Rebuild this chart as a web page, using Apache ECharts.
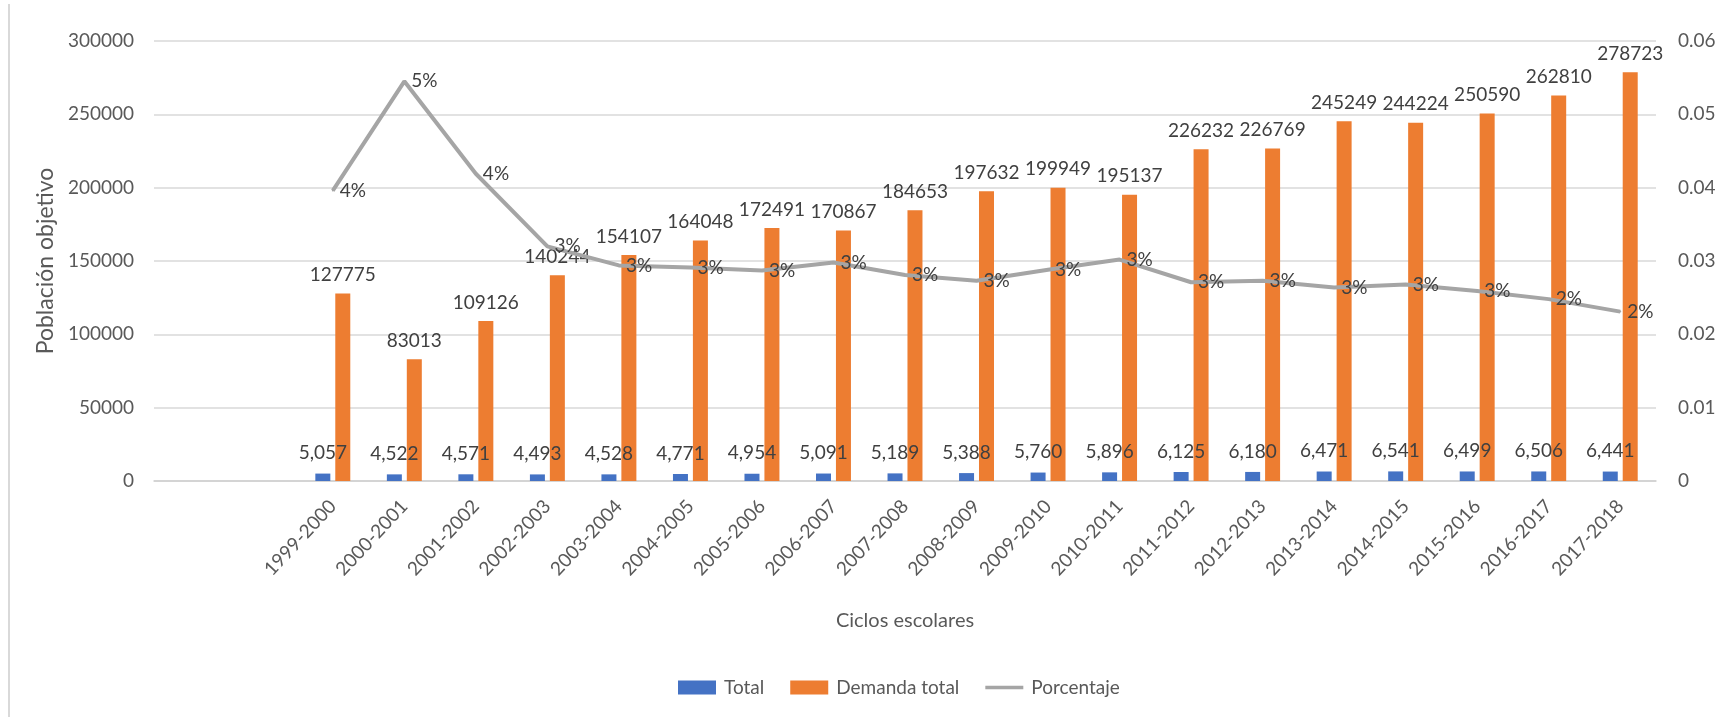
<!DOCTYPE html>
<html>
<head>
<meta charset="utf-8">
<script src="https://cdn.jsdelivr.net/npm/echarts@6/dist/echarts.min.js"></script>
<style>
html,body{margin:0;padding:0;background:#fff;}
#chart{width:1724px;height:717px;}
</style>
</head>
<body>
<div id="chart"></div>
<script>
// Two empty leading category slots exist on the reference axis
const leadingBlanks = ['', ''];
const categories = ['1999-2000','2000-2001','2001-2002','2002-2003','2003-2004','2004-2005','2005-2006','2006-2007','2007-2008','2008-2009','2009-2010','2010-2011','2011-2012','2012-2013','2013-2014','2014-2015','2015-2016','2016-2017','2017-2018'];
const total = [5057,4522,4571,4493,4528,4771,4954,5091,5189,5388,5760,5896,6125,6180,6471,6541,6499,6506,6441];
const demandaTotal = [127775,83013,109126,140244,154107,164048,172491,170867,184653,197632,199949,195137,226232,226769,245249,244224,250590,262810,278723];
const porcentaje = [0.0396,0.0545,0.0419,0.0320,0.0294,0.0291,0.0287,0.0298,0.0281,0.0273,0.0288,0.0302,0.0271,0.0273,0.0264,0.0268,0.0259,0.0248,0.0231];
const leftTicks = {min:0, max:300000, interval:50000};
const rightTicks = {min:0, max:0.06, interval:0.01};

const FONT = 'Lato, "Open Sans", sans-serif';
const pad = arr => leadingBlanks.map(() => null).concat(arr);

const chart = echarts.init(document.getElementById('chart'), null, {renderer:'canvas'});
chart.setOption({
  animation:false,
  backgroundColor:'#fff',
  textStyle:{fontFamily:FONT},
  graphic:[{type:'line', shape:{x1:9,y1:4,x2:9,y2:717}, style:{stroke:'#d9d9d9', lineWidth:2}}],
  grid:{left:154, right:68, top:41, bottom:236, containLabel:false},
  legend:{
    left:673, top:673, itemWidth:38, itemHeight:14, itemGap:26, symbolKeepAspect:true,
    textStyle:{fontFamily:FONT, fontSize:19, color:'#595959', padding:[0,0,0,3]},
    data:[
      {name:'Total', icon:'rect'},
      {name:'Demanda total', icon:'rect'},
      {name:'Porcentaje', icon:'path://M0,0 H40 V3.5 H0 Z'}
    ]
  },
  xAxis:{
    type:'category', data:leadingBlanks.concat(categories),
    axisTick:{show:false},
    axisLine:{lineStyle:{color:'#d0d0d0', width:1.5}},
    axisLabel:{rotate:47, fontSize:19, color:'#595959', margin:22, fontFamily:FONT, interval:0},
    name:'Ciclos escolares', nameLocation:'middle', nameGap:130,
    nameTextStyle:{fontSize:20, color:'#595959', fontFamily:FONT}
  },
  yAxis:[{
    type:'value', min:leftTicks.min, max:leftTicks.max, interval:leftTicks.interval,
    axisLabel:{fontSize:19, color:'#595959', margin:20, fontFamily:FONT, formatter:v => String(v)},
    splitLine:{lineStyle:{color:'#d9d9d9', width:1.5}},
    axisLine:{show:false}, axisTick:{show:false},
    name:'Población objetivo', nameLocation:'middle', nameGap:90, nameRotate:90,
    nameTextStyle:{fontSize:23, color:'#595959', fontFamily:FONT}
  },{
    type:'value', min:rightTicks.min, max:rightTicks.max, interval:rightTicks.interval,
    axisLabel:{fontSize:19, color:'#595959', margin:22, fontFamily:FONT,
      formatter:v => v === 0 ? '0' : v.toFixed(2)},
    splitLine:{show:false}, axisLine:{show:false}, axisTick:{show:false}
  }],
  series:[{
    name:'Total', type:'bar', data:pad(total), barWidth:15, barGap:'33%',
    itemStyle:{color:'#4472c4'},
    label:{show:true, position:'top', distance:11, fontSize:19, color:'#404040', fontFamily:FONT,
      formatter:p => p.value == null ? '' : p.value.toLocaleString('en-US')}
  },{
    name:'Demanda total', type:'bar', data:pad(demandaTotal), barWidth:15,
    itemStyle:{color:'#ed7d31'},
    label:{show:true, position:'top', distance:9, fontSize:19, color:'#404040', fontFamily:FONT}
  },{
    name:'Porcentaje', type:'line', yAxisIndex:1, data:pad(porcentaje),
    symbol:'circle', symbolSize:2, showSymbol:true, connectNulls:false, z:5,
    lineStyle:{color:'#a5a5a5', width:4},
    itemStyle:{color:'#a5a5a5'},
    label:{show:true, position:'right', distance:6, fontSize:19, color:'#404040', fontFamily:FONT,
      formatter:p => p.value == null ? '' : Math.round(p.value*100) + '%'}
  }]
});
</script>
</body>
</html>
